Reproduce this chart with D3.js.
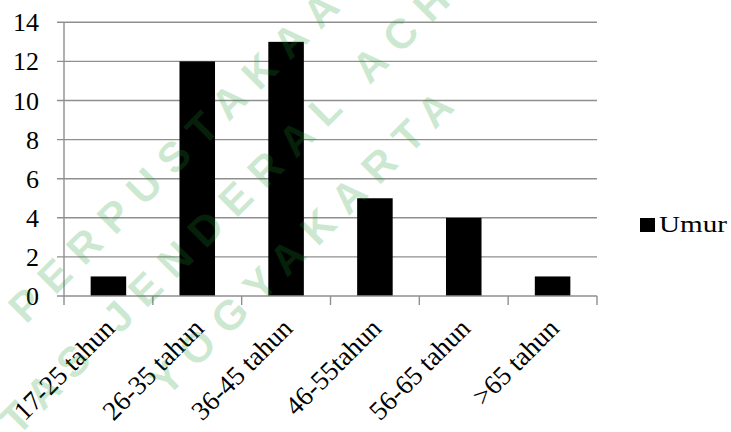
<!DOCTYPE html>
<html>
<head>
<meta charset="utf-8">
<script src="https://cdn.jsdelivr.net/npm/d3@7"></script>
</head>
<body style="margin:0">
<svg id="chart" width="731" height="432"></svg>
<script>
const categories = ["17-25 tahun","26-35 tahun","36-45 tahun","46-55tahun","56-65 tahun",">65 tahun"];
const values = [1, 12, 13, 5, 4, 1];
const yTicks = [0, 2, 4, 6, 8, 10, 12, 14];
const seriesName = "Umur";
const watermarkLines = ["PERPUSTAKAAN", "UNIVERSITAS JENDERAL ACHMAD YANI", "YOGYAKARTA"];

// start loading the fonts as early as possible
if (document.fonts && document.fonts.load) {
  document.fonts.load("26px 'Liberation Serif'");
  document.fonts.load("bold 42px 'Liberation Sans'");
}

const svg = d3.select("#chart");
const mLeft = 64, mRight = 597, mTop = 22.3, mBottom = 296;
const gridColor = "#8f8f8f";

const x = d3.scaleBand().domain(categories).range([mLeft, mRight]).paddingInner(0.6).paddingOuter(0.3);
const y = d3.scaleLinear().domain([0, 14]).range([mBottom, mTop]);
const step = x.step();

svg.append("g").selectAll("line").data(yTicks.filter(d => d > 0)).join("line")
  .attr("x1", mLeft - 7).attr("x2", mRight)
  .attr("y1", d => y(d)).attr("y2", d => y(d))
  .attr("stroke", gridColor).attr("stroke-width", 1.4);

svg.append("line").attr("x1", mLeft).attr("x2", mLeft).attr("y1", y(14)).attr("y2", y(0))
  .attr("stroke", gridColor).attr("stroke-width", 1.4);

svg.append("g").selectAll("rect").data(values).join("rect")
  .attr("x", (d, i) => x(categories[i]))
  .attr("width", x.bandwidth())
  .attr("y", d => y(d))
  .attr("height", d => y(0) - y(d))
  .attr("fill", "#000");

svg.append("line").attr("x1", mLeft - 7).attr("x2", mRight).attr("y1", y(0)).attr("y2", y(0))
  .attr("stroke", gridColor).attr("stroke-width", 1.4);

const tickXs = categories.map((c, i) => mLeft + i * step).concat([mLeft + categories.length * step]);
svg.append("g").selectAll("line").data(tickXs).join("line")
  .attr("x1", d => d).attr("x2", d => d)
  .attr("y1", y(0)).attr("y2", y(0) + 9)
  .attr("stroke", gridColor).attr("stroke-width", 1.4);

yTicks.forEach(d => {
  svg.append("text").attr("x", 39).attr("y", y(d) + 9)
    .attr("font-family", "Liberation Serif").attr("font-size", 26)
    .attr("text-anchor", "end").attr("fill", "#000")
    .text(d);
});

categories.forEach(d => {
  svg.append("text")
    .attr("font-family", "Liberation Serif").attr("font-size", 27)
    .attr("transform", `translate(${x(d) + x.bandwidth() / 2 + 8},330) rotate(-45)`)
    .attr("text-anchor", "end").attr("fill", "#000")
    .text(d);
});

svg.append("rect").attr("x", 640).attr("y", 218).attr("width", 15).attr("height", 14).attr("fill", "#000");
const legendText = svg.append("text").attr("x", 659).attr("y", 232)
  .attr("font-family", "Liberation Serif").attr("font-size", 23).attr("fill", "#000")
  .attr("textLength", 68).attr("lengthAdjust", "spacingAndGlyphs")
  .text(seriesName);

const wmStarts = [[26, 325], [-196, 651], [167, 398]];
const wmTexts = [];
watermarkLines.forEach((d, i) => {
  wmTexts.push(svg.append("text")
    .attr("font-family", "Liberation Sans").attr("font-weight", "bold").attr("font-size", 42)
    .attr("transform", `translate(${wmStarts[i][0]},${wmStarts[i][1]}) rotate(-45)`)
    .attr("letter-spacing", 13)
    .attr("fill", "#1a9a2a").attr("fill-opacity", 0.22)
    .text(d));
});

// force layout now so font selection happens before the page finishes loading
legendText.node().getComputedTextLength();
wmTexts[0].node().getComputedTextLength();
document.body.offsetWidth;
</script>
</body>
</html>
